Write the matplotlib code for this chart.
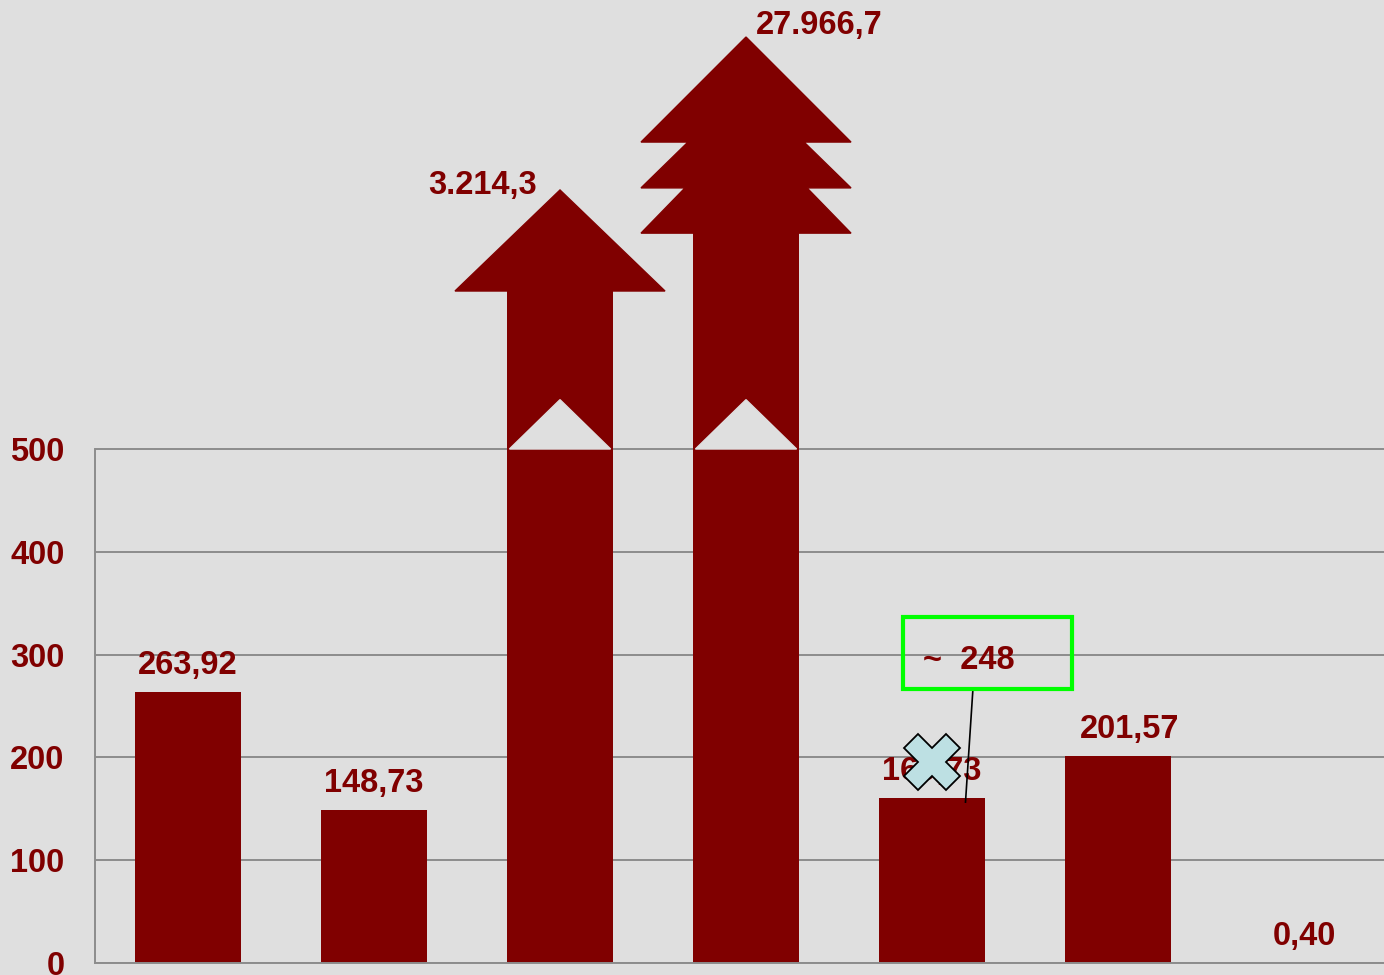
import matplotlib.pyplot as plt
from matplotlib.patches import Polygon, Rectangle

# data
values = [263.92, 148.73, 3214.3, 27966.7, 160.73, 201.57, 0.40]
labels = ["263,92", "148,73", "3.214,3", "27.966,7", "160,73", "201,57", "0,40"]
yticks = [0, 100, 200, 300, 400, 500]
note_text = "~  248"
note_bar = 4

red = "#800000"
bg = "#dfdfdf"
grid = "#8c8c8c"
cap = 500
fs = 23.5

plt.rcParams['font.family'] = ['Liberation Sans', 'DejaVu Sans']
plt.rcParams['font.weight'] = 'bold'

fig = plt.figure(figsize=(13.84, 9.75), dpi=100, facecolor=bg)
ax = fig.add_axes([95 / 1384, 12 / 975, 1289 / 1384, 963 / 975])
ax.set_facecolor(bg)
ax.set_xlim(-0.5, 6.43)
ax.set_ylim(0, 936.8)

bw = 0.57
head = 0.5645
x = list(range(len(values)))

# broken bars: columns stop a bit above the 500 line, arrows go on top
col_top = {2: 653.7, 3: 710.0}
heights = [v if v <= cap else col_top[i] for i, v in enumerate(values)]
ax.bar(x, heights, width=bw, color=red, zorder=2)

# single arrow head
i = 2
t = col_top[i]
ax.add_patch(Polygon([(i - head, t), (i, 752), (i + head, t)], closed=True,
                     color=red, zorder=2, clip_on=False))
# triple arrow head
i = 3
t = col_top[i]
pts = [(i - head, t), (i - 0.328, 754), (i - head, 754), (i - 0.312, 798.6),
       (i - head, 798.6), (i, 900.8), (i + head, 798.6), (i + 0.312, 798.6),
       (i + head, 754), (i + 0.328, 754), (i + head, t)]
ax.add_patch(Polygon(pts, closed=True, color=red, zorder=2, clip_on=False))

# notch at the break
for i in (2, 3):
    ax.add_patch(Polygon([(i - 0.272, cap), (i, 548), (i + 0.272, cap)],
                         closed=True, color=bg, zorder=3))

# value labels
tips = {2: 752, 3: 900.8}
dy = {2: -4, 3: 3}
dx = {2: -77, 3: 73, 5: 12}
for i, (v, lab) in enumerate(zip(values, labels)):
    if v > cap:
        ax.annotate(lab, (i, tips[i]), xytext=(dx[i], dy[i]), textcoords='offset pixels',
                    ha='center', va='baseline', color=red, fontsize=fs,
                    fontweight='bold', zorder=5, annotation_clip=False)
    else:
        ax.annotate(lab, (i, v), xytext=(dx.get(i, 0), 18), textcoords='offset pixels',
                    ha='center', va='baseline', color=red, fontsize=fs,
                    fontweight='bold', zorder=5)

# cross over the label of bar 5
ax.plot([note_bar], [196], marker='X', markersize=40, markerfacecolor='#bde0e3',
        markeredgecolor='black', markeredgewidth=1.3, zorder=6, linestyle='none')

# callout box
ax.plot([note_bar + 0.22, note_bar + 0.18], [266.5, 156.5], color='black', lw=1.2, zorder=6)
ax.add_patch(Rectangle((note_bar - 0.156, 266.5), 0.909, 70.1, fill=False,
                       edgecolor='#00ff00', lw=3, zorder=6))
ax.text(note_bar + 0.2, 294, note_text, ha='center', va='center', color=red,
        fontsize=fs, fontweight='bold', zorder=7)

# axes styling
ax.set_yticks(yticks)
ax.set_yticklabels([str(t) for t in yticks], color=red, fontsize=fs, fontweight='bold')
ax.tick_params(axis='y', length=0, pad=22)
ax.set_xticks([])
ax.yaxis.grid(True, color=grid, lw=1.4, zorder=0)
ax.set_axisbelow(True)
for s in ('top', 'right'):
    ax.spines[s].set_visible(False)
ax.spines['left'].set_bounds(0, cap)
ax.spines['left'].set_color(grid)
ax.spines['left'].set_linewidth(1.4)
ax.spines['bottom'].set_color(grid)
ax.spines['bottom'].set_linewidth(1.4)

fig.savefig("out.png", dpi=100, facecolor=bg)
